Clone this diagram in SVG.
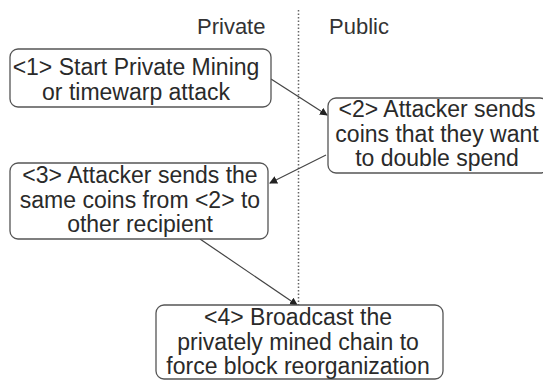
<svg xmlns="http://www.w3.org/2000/svg" width="543" height="380" viewBox="0 0 543 380">
<style>
  .box{fill:#fff;stroke:#555;stroke-width:1.3}
  .t{font-family:"Liberation Sans",Arial,sans-serif;font-size:23px;fill:#2a2a2a;text-anchor:middle}
  .lbl{font-family:"Liberation Sans",Arial,sans-serif;font-size:22px;fill:#333}
  .conn{stroke:#444;stroke-width:1.2;fill:none;marker-end:url(#ah)}
</style>
<defs>
  <marker id="ah" markerWidth="8" markerHeight="8" refX="7" refY="4" orient="auto" markerUnits="userSpaceOnUse">
    <path d="M0,0 L8,4 L0,8 Z" fill="#222"/>
  </marker>
</defs>
<rect width="543" height="380" fill="#fff"/>
<line x1="298.5" y1="10" x2="298.5" y2="305" stroke="#666" stroke-width="1.5" stroke-dasharray="1.5,2"/>
<text class="lbl" x="197" y="34">Private</text>
<text class="lbl" x="329" y="34">Public</text>
<g id="connectors">
  <line class="conn" x1="271" y1="79" x2="327" y2="115"/>
  <line class="conn" x1="326" y1="155" x2="270" y2="183"/>
  <line class="conn" x1="200" y1="239" x2="297" y2="305"/>
</g>
<g id="n1">
  <rect class="box" x="10" y="49" width="261" height="58" rx="8"/>
  <text class="t" x="136" y="75">&lt;1&gt; Start Private Mining</text>
  <text class="t" x="136" y="99.5">or timewarp attack</text>
</g>
<g id="n2">
  <rect class="box" x="328" y="98" width="220" height="75" rx="8"/>
  <text class="t" x="437" y="117">&lt;2&gt; Attacker sends</text>
  <text class="t" x="437" y="142">coins that they want</text>
  <text class="t" x="437" y="166">to double spend</text>
</g>
<g id="n3">
  <rect class="box" x="10" y="163" width="258" height="76" rx="8"/>
  <text class="t" x="140" y="183">&lt;3&gt; Attacker sends the</text>
  <text class="t" x="140" y="208">same coins from &lt;2&gt; to</text>
  <text class="t" x="140" y="232">other recipient</text>
</g>
<g id="n4">
  <rect class="box" x="156" y="305" width="287" height="74" rx="8"/>
  <text class="t" x="298" y="325">&lt;4&gt;  Broadcast the</text>
  <text class="t" x="298" y="350">privately mined chain to</text>
  <text class="t" x="298" y="374">force block reorganization</text>
</g>
</svg>
